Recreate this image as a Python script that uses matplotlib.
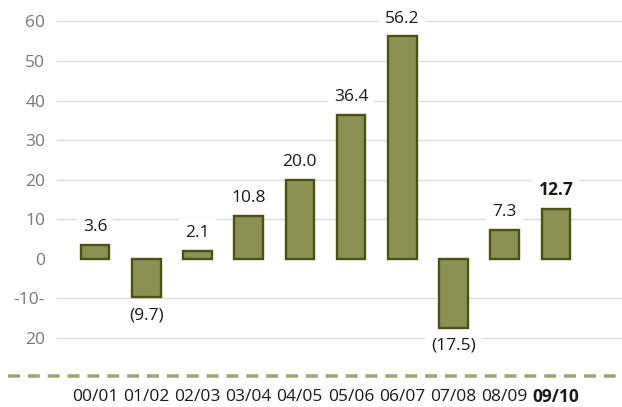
import matplotlib.pyplot as plt
from matplotlib.lines import Line2D
import numpy as np

plt.rcParams['font.family'] = ['Open Sans', 'DejaVu Sans']

# data
years = ["00/01", "01/02", "02/03", "03/04", "04/05", "05/06", "06/07", "07/08", "08/09", "09/10"]
values = [3.6, -9.7, 2.1, 10.8, 20.0, 36.4, 56.2, -17.5, 7.3, 12.7]
labels = ["3.6", "(9.7)", "2.1", "10.8", "20.0", "36.4", "56.2", "(17.5)", "7.3", "12.7"]
ytick_vals = [60, 50, 40, 30, 20, 10, 0, -10, -20]
ytick_labels = ["60", "50", "40", "30", "20", "10", "0", "-10-", "20"]

fill = "#8a9155"
edge = "#4a5314"
fs = 12.5

fig = plt.figure(figsize=(6.22, 4.07), dpi=100)
W, H = 622, 407
ax = fig.add_axes([57 / W, 1 - 346 / H, (622 - 57) / W, (346 - 9.5) / H])

x = np.arange(len(years))
ax.bar(x, values, width=0.56, color=fill, edgecolor=edge, linewidth=1.7, zorder=3)

ax.set_xlim(-0.742, 10.29)
ax.set_ylim(-22, 63)

# value labels sit on a white box that cuts the gridlines
box = dict(boxstyle="square,pad=0.35", facecolor="white", edgecolor="none")
for i, (v, lab) in enumerate(zip(values, labels)):
    bold = i == len(values) - 1
    if v >= 0:
        ax.annotate(lab, (i, v), xytext=(0, 7), textcoords="offset points",
                    ha="center", va="bottom", fontsize=fs, color="#1a1a1a",
                    fontweight="bold" if bold else "normal", bbox=box, zorder=4)
    else:
        ax.annotate(lab, (i, v), xytext=(0, -7), textcoords="offset points",
                    ha="center", va="top", fontsize=fs, color="#1a1a1a",
                    bbox=box, zorder=4)

# gridlines (no line at zero)
for t in ytick_vals:
    if t != 0:
        ax.axhline(t, color="#dedede", linewidth=1, zorder=1)

ax.set_yticks(ytick_vals)
ax.set_yticklabels(ytick_labels, fontsize=fs, color="#777777")
ax.tick_params(axis="y", length=0, pad=8.5)
ax.set_xticks([])
for s in ax.spines.values():
    s.set_visible(False)

# x labels below the dashed line
for i, yr in enumerate(years):
    xf = (95 + 51.2 * i) / W
    fig.text(xf, 1 - 397 / H, yr, ha="center", va="center", fontsize=fs,
             color="#1a1a1a", fontweight="bold" if i == len(years) - 1 else "normal")

# dashed baseline
fig.add_artist(Line2D([8 / W, 1], [1 - 376 / H, 1 - 376 / H], transform=fig.transFigure,
                      color="#a0a673", linewidth=2.6, linestyle=(0, (3.3, 2.2))))

fig.savefig("out.png", dpi=100)
